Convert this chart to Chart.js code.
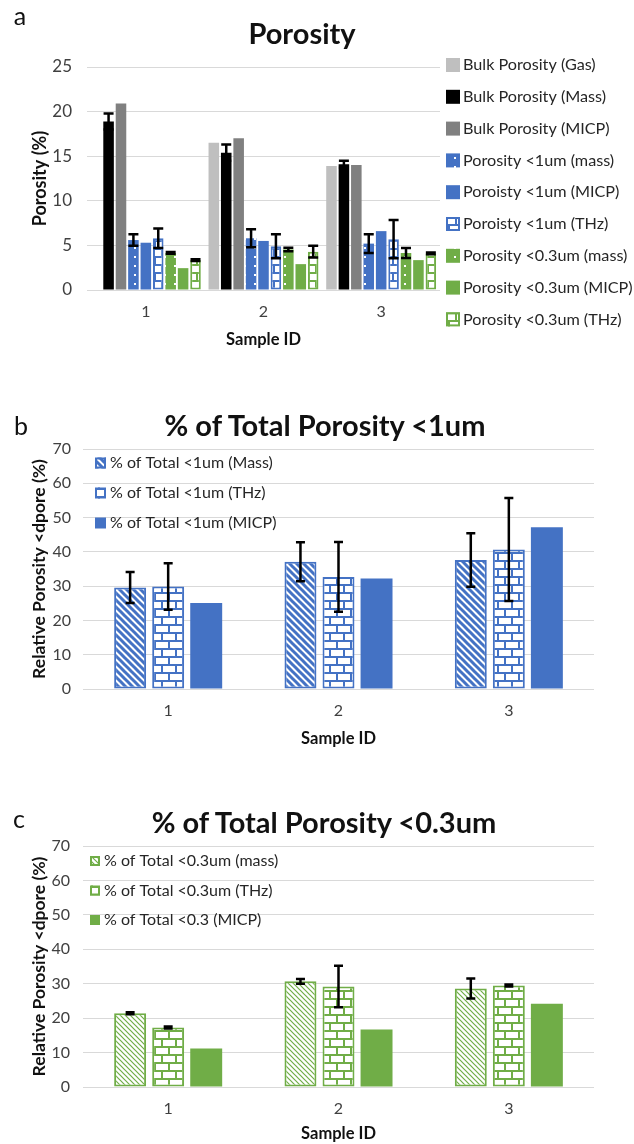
<!DOCTYPE html>
<html>
<head>
<meta charset="utf-8">
<script src="https://cdn.jsdelivr.net/npm/chart.js@4.4.0/dist/chart.umd.min.js"></script>
<style>
    body { margin: 0; background: #fff; width: 634px; height: 1144px; overflow: hidden; position: relative; font-family: Lato, sans-serif; }
    canvas { position: absolute; left: 0; }
    .lbl { position: absolute; transform: translate(-50%, -50%); white-space: nowrap; line-height: 1; color: #111; }
    .panel { font-size: 25px; }
    .title { font-size: 29px; font-weight: bold; }
</style>
</head>
<body>
<canvas id="chartA" width="634" height="360" style="top:0"></canvas>
<canvas id="chartB" width="634" height="360" style="top:400px"></canvas>
<canvas id="chartC" width="634" height="354" style="top:790px"></canvas>

<div class="lbl panel" style="left:20px;top:15px">a</div>
<div class="lbl title" style="left:302px;top:32px">Porosity</div>
<div class="lbl panel" style="left:21px;top:425px">b</div>
<div class="lbl title" style="left:325px;top:424px">% of Total Porosity &lt;1um</div>
<div class="lbl panel" style="left:19px;top:818px">c</div>
<div class="lbl title" style="left:324px;top:821px">% of Total Porosity &lt;0.3um</div>

<script>
const FONT = 'Lato, sans-serif';
const BLUE = '#4472c4';
const GREEN = '#70ad47';

const sampleIds = ['1', '2', '3'];

// (a) porosity, %
const bulkGas = [null, 16.5, 13.9];
const bulkMass = [18.9, 15.4, 14.1];
const bulkMassErr = [0.9, 0.9, 0.4];
const bulkMicp = [20.9, 17.0, 14.0];
const sub1Mass = [5.6, 5.8, 5.2];
const sub1MassErr = [0.65, 1.0, 1.05];
const sub1Micp = [5.3, 5.5, 6.6];
const sub1Thz = [5.8, 4.9, 5.7];
const sub1ThzErr = [1.1, 1.35, 2.15];
const sub03Mass = [4.15, 4.55, 4.15];
const sub03MassErr = [0.1, 0.2, 0.55];
const sub03Micp = [2.45, 2.9, 3.35];
const sub03Thz = [3.35, 4.3, 4.1];
const sub03ThzErr = [0.1, 0.65, 0.1];

// (b) % of total porosity < 1um
const pct1Mass = [29.6, 37.1, 37.6];
const pct1MassErr = [4.5, 5.7, 7.8];
const pct1Thz = [29.9, 32.7, 40.7];
const pct1ThzErr = [6.8, 10.2, 15.0];
const pct1Micp = [25.1, 32.2, 47.2];

// (c) % of total porosity < 0.3um
const pct03Mass = [21.4, 30.7, 28.6];
const pct03MassErr = [0.3, 0.7, 2.9];
const pct03Thz = [17.3, 29.2, 29.5];
const pct03ThzErr = [0.3, 6.0, 0.3];
const pct03Micp = [11.2, 16.7, 24.2];

// --- fill patterns ---
function makeTile(w, h, draw) {
    const c = document.createElement('canvas');
    c.width = w;
    c.height = h;
    const g = c.getContext('2d');
    draw(g);
    return g.createPattern(c, 'repeat');
}

function dotPattern(color) {
    return makeTile(10, 9, g => {
        g.fillStyle = color;
        g.fillRect(0, 0, 10, 9);
        g.fillStyle = '#fff';
        g.fillRect(4, 4, 2, 2);
    });
}

function brickPattern(color) {
    return makeTile(14, 16, g => {
        g.fillStyle = '#fff';
        g.fillRect(0, 0, 14, 16);
        g.fillStyle = color;
        g.fillRect(0, 0, 14, 2);
        g.fillRect(0, 2, 2, 6);
        g.fillRect(0, 8, 14, 2);
        g.fillRect(7, 10, 2, 6);
    });
}

function stripePattern(color, lw, size) {
    return makeTile(size, size, g => {
        g.fillStyle = '#fff';
        g.fillRect(0, 0, size, size);
        g.strokeStyle = color;
        g.lineWidth = lw;
        g.beginPath();
        g.moveTo(-1, -1); g.lineTo(size + 1, size + 1);
        g.moveTo(-1, size - 1); g.lineTo(1, size + 1);
        g.moveTo(size - 1, -1); g.lineTo(size + 1, 1);
        g.stroke();
    });
}

// --- plugins ---
const errorBars = {
    id: 'errorBars',
    afterDatasetsDraw(chart, args, opts) {
        const ctx = chart.ctx;
        const y = chart.scales.y;
        ctx.save();
        ctx.strokeStyle = '#000';
        ctx.lineWidth = opts.width;
        chart.data.datasets.forEach((ds, i) => {
            if (!ds.errors) return;
            chart.getDatasetMeta(i).data.forEach((bar, j) => {
                const v = ds.data[j], e = ds.errors[j];
                if (v == null || !e) return;
                const top = y.getPixelForValue(v + e);
                const bot = y.getPixelForValue(v - e);
                ctx.beginPath();
                ctx.moveTo(bar.x, top); ctx.lineTo(bar.x, bot);
                ctx.moveTo(bar.x - opts.cap, top); ctx.lineTo(bar.x + opts.cap, top);
                ctx.moveTo(bar.x - opts.cap, bot); ctx.lineTo(bar.x + opts.cap, bot);
                ctx.stroke();
            });
        });
        ctx.restore();
    }
};

// simple legend at a fixed spot
const boxLegend = {
    id: 'boxLegend',
    afterDraw(chart, args, opts) {
        const ctx = chart.ctx;
        ctx.save();
        ctx.font = opts.size + 'px ' + FONT;
        ctx.textBaseline = 'middle';
        chart.data.datasets.forEach((ds, i) => {
            const cy = opts.y + i * opts.gap;
            const by = cy - opts.box / 2;
            ctx.fillStyle = ds.backgroundColor;
            ctx.fillRect(opts.x, by, opts.box, opts.box);
            if (ds.borderWidth) {
                ctx.lineWidth = 2;
                ctx.strokeStyle = ds.borderColor;
                ctx.strokeRect(opts.x + 1, by + 1, opts.box - 2, opts.box - 2);
            }
            ctx.fillStyle = '#262626';
            ctx.fillText(ds.label, opts.textX, cy);
        });
        ctx.restore();
    }
};

function makeScales(o) {
    return {
        x: {
            grid: { display: false, drawTicks: false },
            border: { display: false },
            ticks: { color: '#404040', font: { family: FONT, size: 16 }, padding: 12.4 },
            title: {
                display: true, text: 'Sample ID', color: '#111',
                font: { family: FONT, size: 16.5, weight: 'bold' },
                padding: { top: 0, bottom: o.xTitlePad }
            },
            afterFit: s => { s.height = o.xHeight; }
        },
        y: {
            min: 0,
            max: o.yMax,
            grid: { color: '#d9d9d9', drawTicks: false },
            border: { display: false },
            ticks: { stepSize: o.yStep, color: '#404040', font: { family: FONT, size: o.tickSize }, padding: o.yPad },
            title: {
                display: true, text: o.yTitle, color: '#111',
                font: { family: FONT, size: o.yTitleSize, weight: 'bold' },
                padding: { top: o.yTitlePad, bottom: 0 }
            },
            afterFit: s => { s.width = o.yWidth; }
        }
    };
}

function makeChart(id, datasets, o) {
    return new Chart(document.getElementById(id), {
        type: 'bar',
        data: { labels: sampleIds, datasets: datasets },
        options: {
            responsive: false,
            animation: false,
            devicePixelRatio: 1,
            layout: { padding: o.padding },
            datasets: { bar: { categoryPercentage: o.catPct, barPercentage: o.barPct, borderSkipped: false } },
            scales: makeScales(o),
            plugins: {
                legend: { display: false },
                title: { display: false },
                tooltip: { enabled: false },
                errorBars: { width: 2.5, cap: o.cap },
                boxLegend: o.legend
            }
        },
        plugins: [errorBars, boxLegend]
    });
}

// (a)
makeChart('chartA', [
    { label: 'Bulk Porosity (Gas)', data: bulkGas, backgroundColor: '#bfbfbf' },
    { label: 'Bulk Porosity (Mass)', data: bulkMass, errors: bulkMassErr, backgroundColor: '#000' },
    { label: 'Bulk Porosity (MICP)', data: bulkMicp, backgroundColor: '#808080' },
    { label: 'Porosity <1um (mass)', data: sub1Mass, errors: sub1MassErr, backgroundColor: dotPattern(BLUE) },
    { label: 'Poroisty <1um (MICP)', data: sub1Micp, backgroundColor: BLUE },
    { label: 'Poroisty <1um (THz)', data: sub1Thz, errors: sub1ThzErr, backgroundColor: brickPattern(BLUE), borderColor: BLUE, borderWidth: 2 },
    { label: 'Porosity <0.3um (mass)', data: sub03Mass, errors: sub03MassErr, backgroundColor: dotPattern(GREEN) },
    { label: 'Porosity <0.3um (MICP)', data: sub03Micp, backgroundColor: GREEN },
    { label: 'Porosity <0.3um (THz)', data: sub03Thz, errors: sub03ThzErr, backgroundColor: brickPattern(GREEN), borderColor: GREEN, borderWidth: 2 }
], {
    padding: { top: 67, bottom: 10, left: 0, right: 194 },
    yMax: 25, yStep: 5, yTitle: 'Porosity (%)', tickSize: 17, yPad: 15, yWidth: 87,
    yTitleSize: 18, yTitlePad: 29.2,
    xHeight: 60, xTitlePad: 0.1,
    catPct: 0.95, barPct: 0.85, cap: 5,
    legend: { x: 446, y: 65, gap: 31.8, box: 14, textX: 463, size: 16.2 }
});

// (b)
makeChart('chartB', [
    { label: '% of Total <1um (Mass)', data: pct1Mass, errors: pct1MassErr, backgroundColor: stripePattern(BLUE, 3, 7), borderColor: BLUE, borderWidth: 2 },
    { label: '% of Total <1um (THz)', data: pct1Thz, errors: pct1ThzErr, backgroundColor: brickPattern(BLUE), borderColor: BLUE, borderWidth: 2 },
    { label: '% of Total <1um (MICP)', data: pct1Micp, backgroundColor: BLUE }
], {
    padding: { top: 49, bottom: 11, left: 0, right: 40 },
    yMax: 70, yStep: 10, yTitle: 'Relative Porosity <dpore (%)', tickSize: 16, yPad: 12, yWidth: 83,
    yTitleSize: 17.5, yTitlePad: 28.5,
    xHeight: 60, xTitlePad: 0.1,
    catPct: 0.67, barPct: 0.84, cap: 4.5,
    legend: { x: 95, y: 63, gap: 30, box: 11, textX: 110, size: 16 }
});

// (c)
makeChart('chartC', [
    { label: '% of Total <0.3um (mass)', data: pct03Mass, errors: pct03MassErr, backgroundColor: stripePattern(GREEN, 1.2, 5), borderColor: GREEN, borderWidth: 2 },
    { label: '% of Total <0.3um (THz)', data: pct03Thz, errors: pct03ThzErr, backgroundColor: brickPattern(GREEN), borderColor: GREEN, borderWidth: 2 },
    { label: '% of Total <0.3 (MICP)', data: pct03Micp, backgroundColor: GREEN }
], {
    padding: { top: 56, bottom: 0, left: 0, right: 40 },
    yMax: 70, yStep: 10, yTitle: 'Relative Porosity <dpore (%)', tickSize: 16, yPad: 13, yWidth: 83,
    yTitleSize: 17.5, yTitlePad: 28.5,
    xHeight: 57, xTitlePad: 0,
    catPct: 0.67, barPct: 0.84, cap: 4.5,
    legend: { x: 90, y: 71, gap: 29.5, box: 10, textX: 104, size: 16 }
});
</script>
</body>
</html>
